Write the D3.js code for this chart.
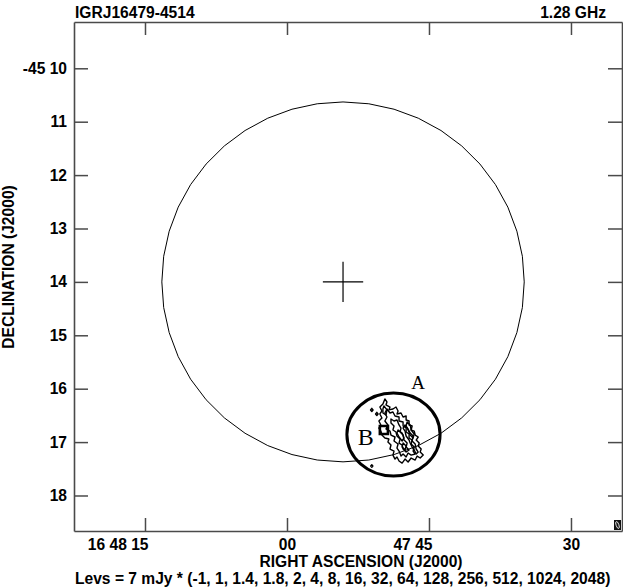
<!DOCTYPE html>
<html>
<head>
<meta charset="utf-8">
<script src="https://cdn.jsdelivr.net/npm/d3@7"></script>
<style>
  html, body { margin: 0; padding: 0; background: #fff; }
  svg { display: block; }
  text { font-family: "Liberation Sans", Arial, Helvetica, sans-serif; font-weight: bold; fill: #000; }
</style>
</head>
<body>
<svg id="chart" width="623" height="588"></svg>
<script>
// ---------------- data ----------------
const titleText = "IGRJ16479-4514";
const freqText = "1.28 GHz";
const xLabel = "RIGHT ASCENSION (J2000)";
const yLabel = "DECLINATION (J2000)";
const levsText = "Levs = 7 mJy * (-1, 1, 1.4, 1.8, 2, 4, 8, 16, 32, 64, 128, 256, 512, 1024, 2048)";

// RA in seconds past 16h47m, Dec in arcmin south of -45d
const raExtent = [82.5, 24.61];
const decExtent = [9.133, 18.665];
const raTicks = [75, 60, 45, 30];
const raTickLabels = ["16 48 15", "00", "47 45", "30"];
const decTicks = [10, 11, 12, 13, 14, 15, 16, 17, 18];
const decTickLabels = ["-45 10", "11", "12", "13", "14", "15", "16", "17", "18"];
const decDeg = 45.23;

// IGR error circle (centre RA s, Dec arcmin, radius arcmin)
const errCircle = { ra: 54.08, dec: 14.0, r: 3.37, cross: 0.375 };
// Source A ellipse (centre, semi-axes in arcsec)
const srcA = { ra: 48.75, dec: 16.858, aRa: 52, aDec: 46.5 };

// contours: offsets in arcsec (east +, south +) from source A centre
const contour1 = [[9.6,-39.9],[7.3,-36.6],[8.4,-33.2],[3.9,-30.9],[5.1,-27.6],[0.6,-28.7],[-2.8,-30.9],[-5.1,-26.4],[-3.9,-23.1],[-8.4,-24.2],[-10.7,-19.7],[-14.1,-20.8],[-14.1,-16.3],[-17.4,-15.2],[-17.4,-10.7],[-20.8,-9.6],[-19.7,-5.1],[-23.1,-3.9],[-24.2,0.6],[-27.6,2.8],[-25.3,6.2],[-28.7,9.6],[-27.6,12.9],[-30.9,16.3],[-29.8,19.7],[-33.2,23.1],[-29.8,26.4],[-26.4,24.2],[-24.2,28.7],[-19.7,26.4],[-16.3,30.9],[-12.9,27.6],[-9.6,32.1],[-6.2,29.8],[-3.9,25.3],[-1.7,27.6],[0.6,23.1],[-0.6,18.6],[3.9,16.3],[2.8,11.8],[6.2,8.4],[5.1,5.1],[9.6,3.9],[12.9,0.6],[14.1,-3.9],[16.3,-7.3],[14.1,-10.7],[16.3,-15.2],[12.9,-18.6],[15.2,-23.1],[12.9,-26.4],[15.2,-30.9],[11.8,-34.3]];
const contour2 = [[7.3,-28.7],[3.9,-24.2],[0.6,-25.3],[-1.7,-20.8],[-6.2,-19.7],[-6.2,-15.2],[-10.7,-14.1],[-10.7,-9.6],[-14.1,-7.3],[-14.1,-2.8],[-17.4,-0.6],[-17.4,3.9],[-20.8,6.2],[-19.7,10.7],[-23.1,14.1],[-21.9,18.6],[-24.2,21.9],[-19.7,23.1],[-16.3,20.8],[-14.1,25.3],[-10.7,21.9],[-8.4,24.2],[-6.2,18.6],[-3.9,15.2],[-5.1,10.7],[-0.6,7.3],[-1.7,2.8],[2.8,0.6],[3.9,-3.9],[8.4,-6.2],[6.2,-10.7],[9.6,-15.2],[7.3,-19.7],[9.6,-24.2]];
const contour3 = [[2.8,-17.4],[-0.6,-15.2],[-3.9,-16.3],[-6.2,-10.7],[-8.4,-7.3],[-7.3,-2.8],[-10.7,0.6],[-11.8,6.2],[-15.2,9.6],[-14.1,14.1],[-17.4,17.4],[-14.1,19.7],[-10.7,16.3],[-9.6,11.8],[-6.2,9.6],[-7.3,5.1],[-3.9,1.7],[-2.8,-2.8],[0.6,-5.1],[-0.6,-9.6],[2.8,-12.9]];
const contour4 = [[-5.1,-5.1],[-9.6,-1.7],[-11.8,3.9],[-9.6,7.3],[-6.2,2.8],[-3.9,-1.7]];
const contour5 = [[-10.7,9.6],[-14.1,12.9],[-12.9,17.4],[-9.6,14.1]];
const contour6 = [[-15.2,-14.1],[-18.6,-10.7],[-19.7,-5.1],[-23.1,-0.6],[-21.9,3.9],[-18.6,0.6],[-16.3,-5.1],[-14.1,-9.6]];
const contour7 = [[-12.9,-10.7],[-16.3,-6.2],[-18.6,-1.7],[-21.9,1.7],[-20.8,7.3],[-24.2,10.7],[-25.3,16.3],[-27.6,19.7],[-25.3,21.9],[-23.1,17.4],[-20.8,14.1],[-18.6,9.6],[-17.4,6.2],[-14.1,1.7],[-12.9,-3.9],[-10.7,-7.3]];
const contour8 = [[10.7,-32.1],[7.3,-27.6],[8.4,-21.9],[11.8,-24.2],[11.8,-28.7]];
const contour9 = [[25.6,-27.6],[24.2,-29.4],[22.8,-27.6],[24.2,-25.8]];
const contour10 = [[20.0,-23.1],[18.6,-24.9],[17.2,-23.1],[18.6,-21.3]];
const contour11 = [[25.4,35.4],[24.2,34.0],[23.0,35.4],[24.2,36.8]];
const contours = [contour1, contour2, contour3, contour4, contour5, contour6, contour7, contour8, contour9, contour10, contour11];
// compact component box (offsets arcsec)
const boxB = [[15.2,-9.6],[6.2,-9.6],[6.2,-0.6],[15.2,-0.6]];

// source labels: offsets in arcsec from source A centre
const srcLabels = [
  { text: "A", dE: -27.5, dS: -51, size: 19 },
  { text: "B", dE: 31, dS: 11.8, size: 24 }
];

// ---------------- drawing ----------------
const svg = d3.select("#chart");
const x = d3.scaleLinear().domain(raExtent).range([74, 622]);
const y = d3.scaleLinear().domain(decExtent).range([22, 531]);
const arcsecPerRaSec = 15 * Math.cos(decDeg * Math.PI / 180);

function offToXY(o) {
  return [x(srcA.ra + o[0] / arcsecPerRaSec), y(srcA.dec + o[1] / 60)];
}

const axisColor = "#4a4a4a";
const fs = 15.6;

// axes
const gB = svg.append("g").attr("transform", `translate(0,${y.range()[1]})`)
  .call(d3.axisBottom(x).tickValues(raTicks).tickSize(-13).tickSizeOuter(0).tickPadding(8)
    .tickFormat((d, i) => raTickLabels[i]));
const gL = svg.append("g").attr("transform", `translate(${x.range()[0]},0)`)
  .call(d3.axisLeft(y).tickValues(decTicks).tickSize(-14).tickSizeOuter(0).tickPadding(7)
    .tickFormat((d, i) => decTickLabels[i]));
const gT = svg.append("g").attr("transform", `translate(0,${y.range()[0]})`)
  .call(d3.axisTop(x).tickValues(raTicks).tickSize(-13).tickSizeOuter(0).tickFormat(""));
const gR = svg.append("g").attr("transform", `translate(${x.range()[1]},0)`)
  .call(d3.axisRight(y).tickValues(decTicks).tickSize(-14).tickSizeOuter(0).tickFormat(""));

[gB, gL, gT, gR].forEach(g => {
  g.attr("font-family", null).attr("font-size", null);
  g.select(".domain").attr("stroke", axisColor).attr("stroke-width", 1.6);
  g.selectAll(".tick line").attr("stroke", axisColor).attr("stroke-width", 1.5);
});
gB.selectAll("text").attr("font-size", fs)
  .attr("text-anchor", (d, i) => raTickLabels[i].includes(" ") ? "end" : "middle")
  .attr("dx", (d, i) => raTickLabels[i].includes(" ") ? 3 : 0);
gL.selectAll("text").attr("font-size", fs);

// titles
svg.append("text").attr("x", 75).attr("y", 18).attr("font-size", fs).text(titleText);
svg.append("text").attr("x", 606).attr("y", 18).attr("font-size", fs).attr("text-anchor", "end").text(freqText);
svg.append("text").attr("x", 361).attr("y", 567).attr("font-size", fs).attr("text-anchor", "middle").text(xLabel);
svg.append("text").attr("x", 75).attr("y", 584).attr("font-size", fs).text(levsText);
svg.append("text").attr("transform", `translate(14,267) rotate(-90)`).attr("font-size", fs)
  .attr("text-anchor", "middle").text(yLabel);

// error circle (faceted polygon as in the original plot)
const nSeg = 44;
const circPts = d3.range(nSeg).map(i => {
  const t = 2 * Math.PI * i / nSeg;
  const dS = errCircle.r * Math.sin(t);
  const dE = errCircle.r * Math.cos(t) * 60 / arcsecPerRaSec;
  return [x(errCircle.ra + dE), y(errCircle.dec + dS)];
});
svg.append("path").attr("d", d3.line().curve(d3.curveLinearClosed)(circPts))
  .attr("fill", "none").attr("stroke", "#000").attr("stroke-width", 1);

// cross
const crRa = errCircle.cross * 60 / arcsecPerRaSec;
svg.append("line").attr("x1", x(errCircle.ra + crRa)).attr("x2", x(errCircle.ra - crRa))
  .attr("y1", y(errCircle.dec)).attr("y2", y(errCircle.dec)).attr("stroke", "#000").attr("stroke-width", 1.2);
svg.append("line").attr("x1", x(errCircle.ra)).attr("x2", x(errCircle.ra))
  .attr("y1", y(errCircle.dec - errCircle.cross)).attr("y2", y(errCircle.dec + errCircle.cross))
  .attr("stroke", "#000").attr("stroke-width", 1.2);

// contours
const line = d3.line().curve(d3.curveLinearClosed);
svg.append("g").selectAll("path").data(contours).join("path")
  .attr("d", c => line(c.map(offToXY)))
  .attr("fill", "none").attr("stroke", "#000").attr("stroke-width", 1.4).attr("stroke-linejoin", "round");
svg.append("path").attr("d", line(boxB.map(offToXY)))
  .attr("fill", "none").attr("stroke", "#000").attr("stroke-width", 2.6);

// source A ellipse
svg.append("ellipse")
  .attr("cx", x(srcA.ra)).attr("cy", y(srcA.dec))
  .attr("rx", Math.abs(x(srcA.ra + srcA.aRa / arcsecPerRaSec) - x(srcA.ra)))
  .attr("ry", Math.abs(y(srcA.dec + srcA.aDec / 60) - y(srcA.dec)))
  .attr("fill", "none").attr("stroke", "#000").attr("stroke-width", 3);

// source labels
svg.append("g").selectAll("text").data(srcLabels).join("text")
  .attr("x", d => offToXY([d.dE, d.dS])[0]).attr("y", d => offToXY([d.dE, d.dS])[1])
  .attr("text-anchor", "middle")
  .style("font-family", "'Liberation Serif', 'Times New Roman', serif").style("font-weight", "normal")
  .attr("font-size", d => d.size).text(d => d.text);

// beam marker in lower-right corner
const bx = x.range()[1] - 8, by = y.range()[1] - 11;
svg.append("rect").attr("x", bx).attr("y", by).attr("width", 7).attr("height", 10).attr("fill", "#111");
svg.append("ellipse").attr("cx", bx + 3.5).attr("cy", by + 5).attr("rx", 1.4).attr("ry", 3.6)
  .attr("transform", `rotate(-20,${bx + 3.5},${by + 5})`).attr("fill", "none").attr("stroke", "#fff").attr("stroke-width", 0.8);
</script>
</body>
</html>
